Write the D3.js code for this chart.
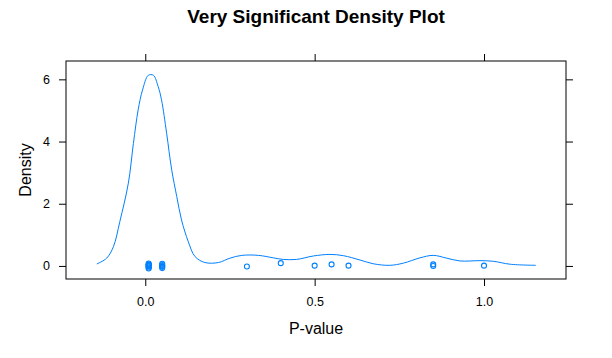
<!DOCTYPE html>
<html><head><meta charset="utf-8">
<script src="https://cdn.jsdelivr.net/npm/d3@7"></script>
<style>body{margin:0;background:#fff}text{font-family:"Liberation Sans",Arial,sans-serif}</style>
</head><body><svg id="c" width="612" height="358"></svg>
<script>
// density curve
const densX = [-0.143,-0.114,-0.094,-0.075,-0.050,-0.035,-0.021,-0.008,0.009,0.024,0.038,0.048,0.063,0.078,0.093,0.107,0.127,0.147,0.176,0.216,0.250,0.285,0.334,0.378,0.407,0.447,0.496,0.545,0.585,0.634,0.673,0.722,0.762,0.811,0.850,0.890,0.929,0.988,1.027,1.077,1.153];
const densY = [0.064,0.25,0.62,1.43,2.66,3.94,5.02,5.66,6.13,6.13,5.77,5.34,4.27,3.09,2.23,1.48,0.78,0.30,0.11,0.11,0.25,0.34,0.34,0.26,0.21,0.21,0.32,0.37,0.33,0.19,0.07,0.02,0.09,0.26,0.34,0.25,0.16,0.17,0.15,0.055,0.02];
// raw p-values with jittered y
const ptX = [0.010,0.010,0.010,0.011,0.010,0.010,0.009,0.011,0.050,0.050,0.050,0.050,0.050,0.30,0.40,0.50,0.55,0.60,0.85,0.85,1.00];
const ptY = [0.08,0.05,0.02,-0.02,-0.05,-0.08,0.0,0.03,0.07,0.03,0.0,-0.03,-0.07,-0.02,0.09,0.01,0.05,0.01,0.05,0.0,0.01];
const xTicks = [0.0,0.5,1.0];
const yTicks = [0,2,4,6];

const svg = d3.select("#c");
const L=66,R=566,T=61,B=279;
const x = d3.scaleLinear().domain([-0.234,1.242]).range([L,R]);
const y = d3.scaleLinear().domain([-0.42,6.59]).range([B,T]);
const col = "#0080ff";

svg.append("text").attr("x",316).attr("y",23).attr("text-anchor","middle")
  .attr("font-size",19).attr("font-weight","bold").text("Very Significant Density Plot");

svg.append("rect").attr("x",L).attr("y",T).attr("width",R-L).attr("height",B-T)
  .attr("fill","none").attr("stroke","#000").attr("stroke-width",1);

const fmt = d3.format(".1f");
const gb = svg.append("g").attr("transform",`translate(0,${B})`)
  .call(d3.axisBottom(x).tickValues(xTicks).tickFormat(fmt).tickSize(7).tickPadding(11));
const gt = svg.append("g").attr("transform",`translate(0,${T})`)
  .call(d3.axisTop(x).tickValues(xTicks).tickFormat("").tickSize(7));
const gl = svg.append("g").attr("transform",`translate(${L},0)`)
  .call(d3.axisLeft(y).tickValues(yTicks).tickFormat(d3.format("d")).tickSize(7).tickPadding(9));
const gr = svg.append("g").attr("transform",`translate(${R},0)`)
  .call(d3.axisRight(y).tickValues(yTicks).tickFormat("").tickSize(7));
[gb,gt,gl,gr].forEach(g=>{g.select(".domain").remove();
  g.selectAll("text").attr("font-size",12.5).attr("fill","#000").attr("font-family","Liberation Sans, Arial, sans-serif");
  g.selectAll("line").attr("stroke","#000");});

svg.append("text").attr("x",316).attr("y",334).attr("text-anchor","middle").attr("font-size",16).text("P-value");
svg.append("text").attr("transform","translate(31,170) rotate(-90)").attr("text-anchor","middle").attr("font-size",16).text("Density");

const line = d3.line().x((d,i)=>x(densX[i])).y((d,i)=>y(densY[i])).curve(d3.curveCatmullRom.alpha(0.5));
svg.append("path").datum(densX).attr("d",line).attr("fill","none").attr("stroke",col).attr("stroke-width",1);

svg.append("g").selectAll("circle").data(ptX).join("circle")
  .attr("cx",d=>x(d)).attr("cy",(d,i)=>y(ptY[i])).attr("r",2.5)
  .attr("fill","none").attr("stroke",col).attr("stroke-width",1.1);
</script></body></html>
